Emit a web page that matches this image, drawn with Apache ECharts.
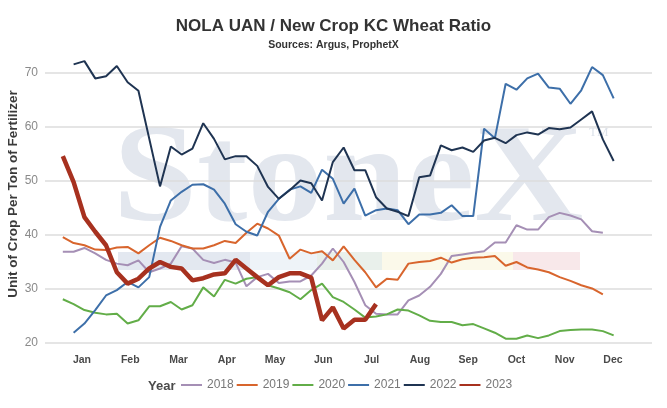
<!DOCTYPE html>
<html lang="en">
<head>
<meta charset="UTF-8">
<title>NOLA UAN / New Crop KC Wheat Ratio</title>
<script src="https://cdn.jsdelivr.net/npm/echarts@6/dist/echarts.min.js"></script>
<style>
  body { margin: 0; padding: 0; background: #fff; }
  #chart { width: 667px; height: 408px; }
</style>
</head>
<body>
<div id="chart"></div>
<script>
// week of year on the x axis, one value per week (null = no reading)
const weeks = [1, 2, 3, 4, 5, 6, 7, 8, 9, 10, 11, 12, 13, 14, 15, 16, 17, 18, 19, 20, 21, 22, 23, 24, 25, 26,
               27, 28, 29, 30, 31, 32, 33, 34, 35, 36, 37, 38, 39, 40, 41, 42, 43, 44, 45, 46, 47, 48, 49, 50, 51, 52];
const months = ['Jan', 'Feb', 'Mar', 'Apr', 'May', 'Jun', 'Jul', 'Aug', 'Sep', 'Oct', 'Nov', 'Dec'];
const years = ['2018', '2019', '2020', '2021', '2022', '2023'];

const y2018 = [36.9, 36.9, 37.6, 36.6, 35.4, 34.7, 34.4, 35.3, 33.1, 33.8, 34.7, 37.9, 37.5, 35.4, 34.8, 35.4, 34.9, 30.5,
               32.2, 32.8, 31.1, 31.4, 31.4, 32.5, 34.7, 37.5, 35.0, 31.3, 27.0, 25.4, 25.3, 25.3, 27.9, 28.8, 30.4, 32.8,
               36.1, 36.4, 36.7, 37.0, 38.6, 38.6, 41.8, 41.0, 41.0, 43.3, 44.1, 43.6, 42.9, 40.7, 40.4, null];
const y2019 = [39.6, 38.5, 38.1, 37.3, 37.2, 37.7, 37.8, 36.6, 38.1, 39.5, 38.9, 38.1, 37.5, 37.5, 38.1, 38.9, 38.5, 40.4,
               42.1, 41.2, 39.9, 35.6, 37.3, 36.6, 37.0, 35.3, 37.9, 35.4, 33.1, 30.3, 31.9, 31.7, 34.7, 35.0, 35.2, 35.8,
               34.9, 35.5, 35.8, 35.9, 36.1, 34.3, 35.0, 34.0, 33.6, 33.1, 32.2, 31.5, 30.7, 30.1, 29.0, null];
const y2020 = [28.1, 27.2, 26.1, 25.6, 25.3, 25.4, 23.6, 24.2, 26.8, 26.8, 27.6, 26.2, 27.0, 30.3, 28.6, 31.7, 31.0, 31.9,
               32.2, 30.7, 30.1, 29.4, 28.1, 29.8, 31.0, 28.5, 27.6, 26.2, 24.7, 24.9, 25.3, 26.2, 26.0, 25.1, 24.1, 23.9,
               23.9, 23.3, 23.5, 22.7, 21.9, 20.8, 20.8, 21.4, 20.9, 21.4, 22.2, 22.4, 22.5, 22.5, 22.2, 21.4];
const y2021 = [null, 21.9, 23.6, 26.1, 28.8, 29.8, 31.3, 30.3, 32.2, 41.5, 46.4, 48.0, 49.3, 49.4, 48.4, 45.8, 42.0, 40.6,
               39.9, 44.3, 46.7, 48.4, 49.0, 47.8, 52.1, 50.4, 45.8, 48.6, 43.6, 44.6, 44.9, 44.6, 42.0, 43.8, 43.8, 44.1,
               45.5, 43.5, 43.5, 59.7, 57.9, 68.0, 66.9, 69.0, 69.9, 67.3, 67.1, 64.3, 66.8, 71.1, 69.6, 65.3];
const y2022 = [null, 71.6, 72.2, 69.0, 69.4, 71.3, 68.3, 66.7, null, 49.0, 56.4, 54.9, 56.0, 60.7, 57.8, 54.0, 54.6, 54.6,
               52.8, 48.9, 46.7, 48.3, 50.1, 49.6, 46.4, 53.5, 56.2, 52.0, 52.0, 47.0, 44.9, 44.3, 43.5, 50.7, 51.0, 56.6,
               55.7, 56.2, 55.4, 57.5, 58.0, 57.0, 58.5, 59.0, 58.6, 59.8, 59.6, 59.9, 61.4, 62.9, 57.7, 53.7];
const y2023 = [54.6, 49.8, 43.3, 40.6, 38.1, 33.1, 31.0, 31.9, 33.8, 35.0, 34.1, 33.8, 31.6, 32.0, 32.7, 32.9, 35.4, 33.8,
               32.2, 30.7, 32.2, 32.9, 32.9, 32.1, 24.2, 26.6, 22.7, 24.3, 24.3, 27.2];

const font = 'Liberation Sans, Arial, sans-serif';
const chart = echarts.init(document.getElementById('chart'));

function pairs(values) {
    return values.map((v, i) => [weeks[i], v]);
}

function line(name, values, color, width) {
    return {
        name: name,
        type: 'line',
        xAxisIndex: 0,
        data: pairs(values),
        symbol: 'none',
        showSymbol: false,
        connectNulls: true,
        clip: false, // 2021/2022 go above the 70 line
        color: color,
        lineStyle: { color: color, width: width },
        emphasis: { disabled: true }
    };
}

const option = {
    animation: false,
    title: {
        text: 'NOLA UAN / New Crop KC Wheat Ratio',
        subtext: 'Sources: Argus, ProphetX',
        left: 'center',
        top: 13,
        itemGap: 5,
        textStyle: { fontFamily: font, fontSize: 17, fontWeight: 'bold', color: '#333' },
        subtextStyle: { fontFamily: font, fontSize: 10.5, fontWeight: 'bold', color: '#333' }
    },
    grid: { left: 45, right: 15, top: 73, bottom: 65 },
    xAxis: [
        {
            // weeks
            type: 'value', min: -0.65, max: 55.55,
            axisLine: { show: false }, axisTick: { show: false },
            axisLabel: { show: false }, splitLine: { show: false }
        },
        {
            // month labels
            type: 'value', position: 'bottom', min: -0.766, max: 11.808,
            axisLine: { show: false }, axisTick: { show: false }, splitLine: { show: false },
            axisLabel: {
                customValues: months.map((m, i) => i),
                formatter: v => months[Math.round(v)],
                margin: 12,
                fontFamily: font, fontSize: 10.5, fontWeight: 'bold', color: '#4a4a4a'
            }
        }
    ],
    yAxis: {
        type: 'value', min: 20, max: 70, interval: 10,
        axisLine: { show: false }, axisTick: { show: false },
        axisLabel: { margin: 7, fontFamily: font, fontSize: 12, color: '#8a8a8a' },
        splitLine: { lineStyle: { color: '#dcdcdc', width: 1.5 } }
    },
    legend: {
        data: years,
        left: 181,
        top: 379,
        padding: 0,
        icon: 'rect',
        itemWidth: 21,
        itemHeight: 2,
        itemGap: 3,
        textStyle: { fontFamily: font, fontSize: 12, color: '#777' }
    },
    graphic: [
        // StoneX watermark
        { type: 'text', x: 113, y: 184, scaleX: 1.08, z: -10, silent: true,
          style: { text: 'StoneX', font: 'bold 140px Liberation Serif', fill: '#e3e7ee', align: 'left', verticalAlign: 'middle' } },
        { type: 'text', x: 589, y: 133, z: -10, silent: true,
          style: { text: 'TM', font: '13px Liberation Serif', fill: '#dde2ea', align: 'left', verticalAlign: 'middle' } },
        { type: 'rect', z: -10, silent: true, shape: { x: 118, y: 252, width: 132, height: 18 }, style: { fill: '#e3e8f0' } },
        { type: 'rect', z: -10, silent: true, shape: { x: 250, y: 252, width: 67, height: 18 }, style: { fill: '#eef3f8' } },
        { type: 'rect', z: -10, silent: true, shape: { x: 317, y: 252, width: 65, height: 18 }, style: { fill: '#e9f0eb' } },
        { type: 'rect', z: -10, silent: true, shape: { x: 382, y: 252, width: 131, height: 18 }, style: { fill: '#fbf9ea' } },
        { type: 'rect', z: -10, silent: true, shape: { x: 513, y: 252, width: 67, height: 18 }, style: { fill: '#f8e8ea' } },
        // axis title and legend label
        { type: 'text', x: 13, y: 194, rotation: Math.PI / 2,
          style: { text: 'Unit of Crop Per Ton of Fertilizer', font: 'bold 13.5px Liberation Sans', fill: '#3a3a3a',
                   align: 'center', verticalAlign: 'middle' } },
        { type: 'text', x: 148, y: 386,
          style: { text: 'Year', font: 'bold 13px Liberation Sans', fill: '#4a4a4a', align: 'left', verticalAlign: 'middle' } }
    ],
    series: [
        line('2018', y2018, '#a58fb5', 2),
        line('2019', y2019, '#d8652d', 2),
        line('2020', y2020, '#62ad48', 2),
        line('2021', y2021, '#3d6fa9', 2),
        line('2022', y2022, '#1f3452', 2),
        line('2023', y2023, '#a7311f', 4.5)
    ]
};

chart.setOption(option);
</script>
</body>
</html>
